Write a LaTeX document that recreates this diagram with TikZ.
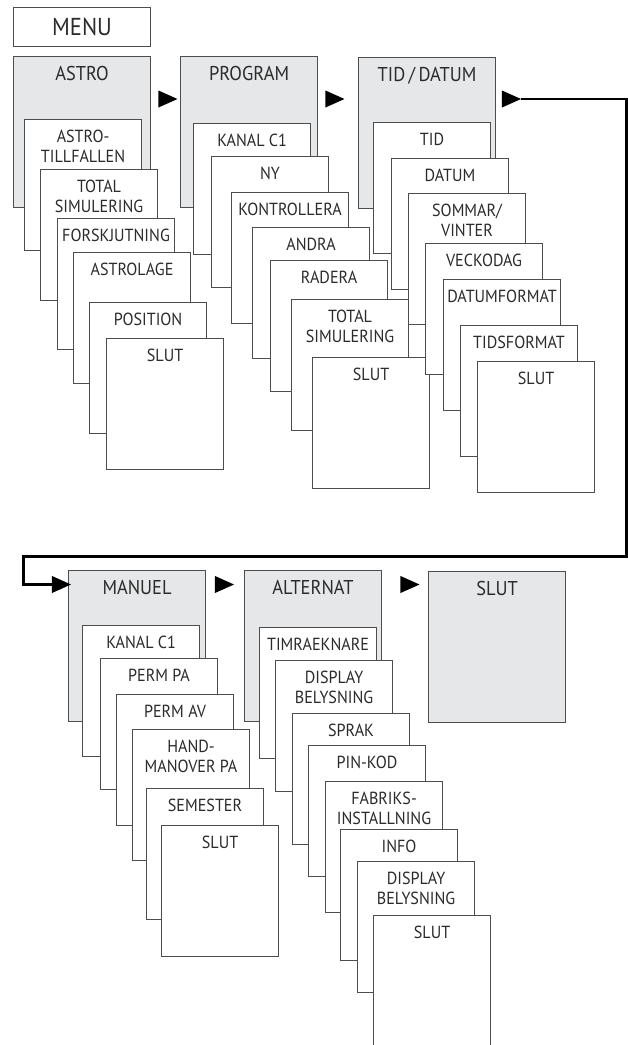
\documentclass[tikz,border=0pt]{standalone}
\usepackage{fontspec}
\setmainfont{PT Sans}[FakeStretch=0.92]
\usetikzlibrary{shapes.geometric}
\definecolor{hdrfill}{HTML}{E6E7E8}
\definecolor{edge}{HTML}{4D4D4D}
\definecolor{txt}{HTML}{2B2B2B}
\newcommand\mybox[4]{\node[sub, label={[lab]north:{#4}}] (#1) at (#2,#3) {};}
\newcommand\myhdr[4]{\node[hdr, label={[hlab]north:{#4}}] (#1) at (#2,#3) {};}
\begin{document}
\begin{tikzpicture}[x=1pt,y=-1pt,
  hdr/.style={draw=edge, line width=1.1pt, fill=hdrfill, minimum width=137pt, minimum height=151pt, anchor=north west, inner sep=0pt},
  sub/.style={draw=edge, line width=1.1pt, fill=white, minimum width=117pt, minimum height=131pt, anchor=north west, inner sep=0pt},
  lab/.style={anchor=north, yshift=-10.5pt, inner sep=0pt, align=center, text=txt, font=\fontsize{17.5}{20.3}\selectfont},
  hlab/.style={anchor=north, yshift=-10.5pt, inner sep=0pt, align=center, text=txt, font=\fontsize{20}{24}\selectfont},
  menubox/.style={draw=edge, line width=1.1pt, fill=white, minimum width=137pt, minimum height=39pt, anchor=north west, inner sep=0pt, text=txt, font=\fontsize{24.5}{28}\selectfont},
  tri/.style={isosceles triangle, isosceles triangle stretches, minimum width=17pt, minimum height=19pt, inner sep=0pt, outer sep=0pt, fill=black, draw=none},
  conn/.style={line width=2.4pt, black}]
\useasboundingbox (0,0) rectangle (628,1045);

\node[menubox] (menu) at (13,7) {MENU};

% ASTRO
\myhdr{astro}{13}{56}{ASTRO}
\mybox{a1}{24}{119}{ASTRO-\\TILLFALLEN}
\mybox{a2}{40}{169}{TOTAL\\SIMULERING}
\mybox{a3}{57}{218}{FORSKJUTNING}
\mybox{a4}{73}{252}{ASTROLAGE}
\mybox{a5}{89}{302}{POSITION}
\mybox{a6}{106}{338}{SLUT}

% PROGRAM
\myhdr{prog}{180}{56}{PROGRAM}
\mybox{p1}{193}{123}{KANAL C1}
\mybox{p2}{211}{156}{NY}
\mybox{p3}{231}{192}{KONTROLLERA}
\mybox{p4}{252}{227}{ANDRA}
\mybox{p5}{270}{260}{RADERA}
\mybox{p6}{291}{299}{TOTAL\\SIMULERING}
\mybox{p7}{312}{357}{SLUT}

% TID/DATUM
\myhdr{tid}{358}{57}{TID\,/\,DATUM}
\mybox{t1}{373}{122}{TID}
\mybox{t2}{391}{158}{DATUM}
\mybox{t3}{408}{193}{SOMMAR/\\VINTER}
\mybox{t4}{425}{243}{VECKODAG}
\mybox{t5}{443}{279}{DATUMFORMAT}
\mybox{t6}{460}{325}{TIDSFORMAT}
\mybox{t7}{477}{361}{SLUT}

% MANUEL
\myhdr{man}{68}{570}{MANUEL}
\mybox{m1}{82}{625}{KANAL C1}
\mybox{m2}{100}{658}{PERM PA}
\mybox{m3}{116}{694}{PERM AV}
\mybox{m4}{132}{729}{HAND-\\MANOVER PA}
\mybox{m5}{146}{788}{SEMESTER}
\mybox{m6}{161}{825}{SLUT}

% ALTERNAT
\myhdr{alt}{244}{570}{ALTERNAT}
\mybox{l1}{259}{627}{TIMRAEKNARE}
\mybox{l2}{275}{660}{DISPLAY\\BELYSNING}
\mybox{l3}{292}{713}{SPRAK}
\mybox{l4}{308}{745}{PIN-KOD}
\mybox{l5}{325}{781}{FABRIKS-\\INSTALLNING}
\mybox{l6}{340}{829}{INFO}
\mybox{l7}{357}{861}{DISPLAY\\BELYSNING}
\mybox{l8}{373}{915}{SLUT}

% SLUT
\myhdr{slut}{428}{571}{SLUT}

% arrows
\node[tri] (ar1) at (164,99) {};
\node[tri] (ar2) at (331,99) {};
\node[tri] (ar3) at (507.5,99) {};
\node[tri] (ar4) at (57.5,584.5) {};
\node[tri] (ar5) at (220.5,584.5) {};
\node[tri] (ar6) at (406,584.5) {};

\coordinate (cr) at (626.5,556.5);
\coordinate (cl) at (23.5,556.5);
\draw[conn] (ar3.east) -| (cr) -- (cl) |- (ar4.west);
\end{tikzpicture}
\end{document}
